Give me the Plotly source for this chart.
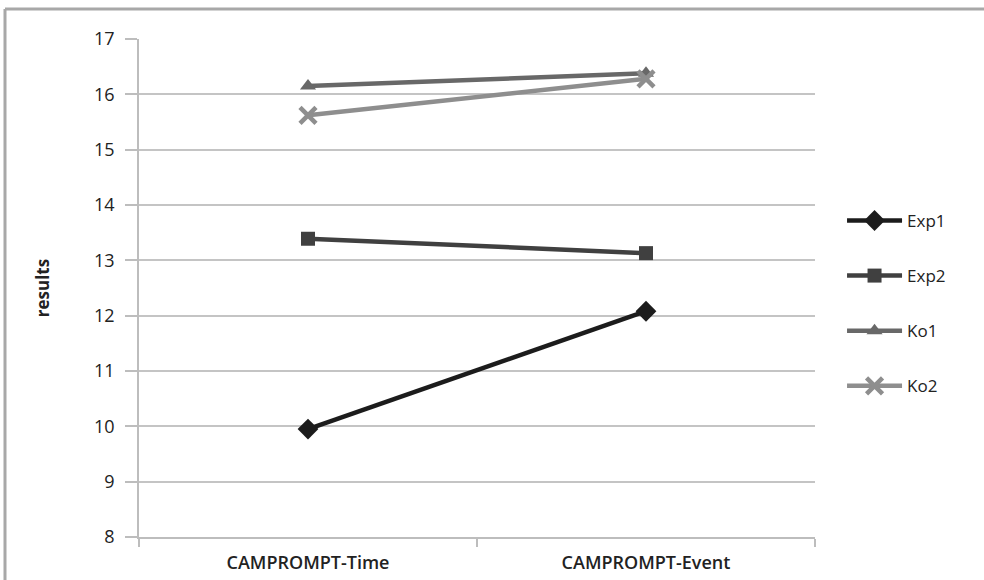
import plotly.graph_objects as go

categories = ["CAMPROMPT-Time", "CAMPROMPT-Event"]
exp1 = [9.95, 12.08]
exp2 = [13.39, 13.13]
ko1 = [16.15, 16.38]
ko2 = [15.62, 16.28]
y_ticks = [8, 9, 10, 11, 12, 13, 14, 15, 16, 17]

series = [
    ("Exp1", exp1, "#1c1c1c", "diamond", 16, 0),
    ("Exp2", exp2, "#404040", "square", 14, 0),
    ("Ko1", ko1, "#686868", "triangle-up", 14, 0),
    ("Ko2", ko2, "#8e8e8e", "x-thin", 16, 4.5),
]

fig = go.Figure()
for i, (name, vals, color, sym, size, lw) in enumerate(series):
    marker = dict(symbol=sym, size=size, color=color)
    if lw:
        marker["line"] = dict(color=color, width=lw)
    fig.add_trace(go.Scatter(
        x=categories, y=vals, name=name, mode="lines+markers",
        line=dict(color=color, width=4.5), marker=marker,
        legendgroup=name,
    ))

L, R, T, B = 139, 169, 39, 43
W, H = 984, 580
pw, ph = W - L - R, H - T - B
left_px, top_px = 5, 9
xl = (left_px - L) / pw
yt = (H - B - top_px) / ph

fig.update_layout(
    width=W, height=H,
    margin=dict(l=L, r=R, t=T, b=B, autoexpand=False),
    paper_bgcolor="white", plot_bgcolor="white",
    font=dict(family="Open Sans, Liberation Sans, sans-serif", color="#222", size=16),
    showlegend=True,
    legend=dict(x=1.040, xanchor="left", y=0.469, yanchor="middle",
                itemwidth=55, tracegroupgap=30, font=dict(size=17, color="#222"),
                bgcolor="rgba(0,0,0,0)"),
    shapes=[
        dict(type="line", xref="paper", yref="paper", x0=xl, x1=xl, y0=-0.2, y1=yt,
             line=dict(color="#a8a8a8", width=3)),
        dict(type="line", xref="paper", yref="paper", x0=xl, x1=1.4, y0=yt, y1=yt,
             line=dict(color="#a8a8a8", width=3)),
    ],
)
fig.update_xaxes(
    type="category", range=[-0.5, 1.5], automargin=False,
    showline=True, linecolor="#bdbdbd", linewidth=1.5,
    showgrid=False, ticks="outside", tickson="boundaries", ticklen=8,
    tickcolor="#bdbdbd", tickwidth=1.5, ticklabelstandoff=9,
    tickfont=dict(size=18, family="Open Sans", weight=600, color="#222"),
)
fig.update_yaxes(
    range=[8, 17], tickvals=y_ticks, ticktext=[str(v) for v in y_ticks],
    automargin=False,
    showline=True, linecolor="#bdbdbd", linewidth=1.5,
    showgrid=True, gridcolor="#c4c4c4", gridwidth=1.5,
    ticks="outside", ticklen=12, tickcolor="#bdbdbd", tickwidth=1.5,
    ticklabelstandoff=7,
    tickfont=dict(size=18, color="#222"),
    zeroline=False,
    title=dict(text="results", font=dict(size=17, family="Open Sans", weight=700, color="#222"), standoff=40),
)

fig.write_html("out.html", config={"displayModeBar": False},
               post_script="document.body.style.margin='0';document.body.style.overflow='hidden';")
